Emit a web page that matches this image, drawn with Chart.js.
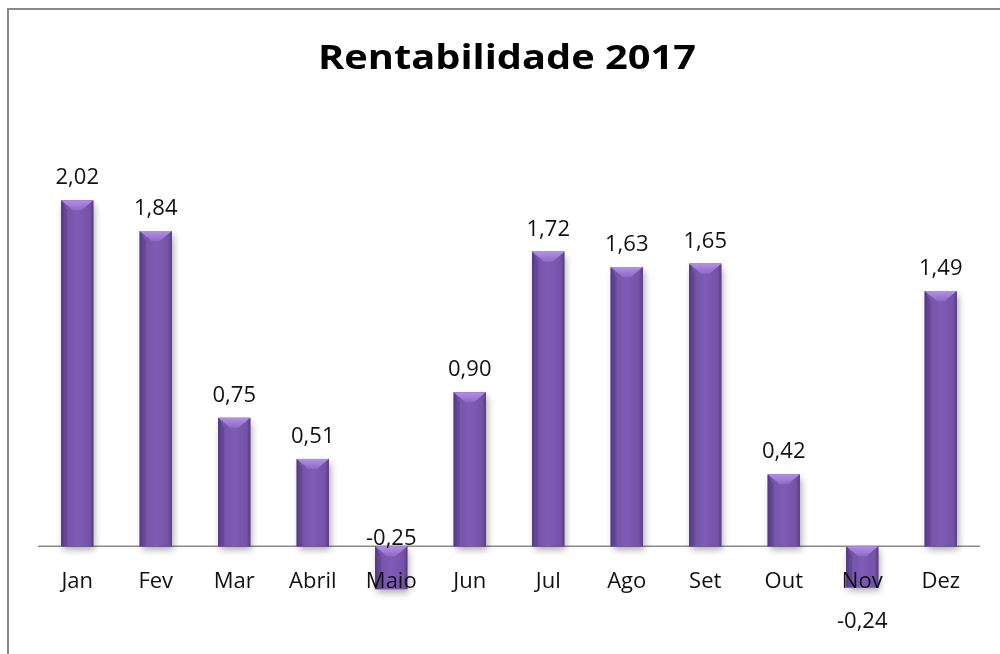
<!DOCTYPE html>
<html>
<head>
<meta charset="utf-8">
<script src="https://cdn.jsdelivr.net/npm/chart.js@4"></script>
<style>
  html, body { margin: 0; padding: 0; background: #fff; }
  #wrap { width: 1000px; height: 654px; position: relative; }
</style>
</head>
<body>
<div id="wrap"><canvas id="chart1" width="1000" height="654"></canvas></div>
<script>
const meses = ['Jan', 'Fev', 'Mar', 'Abril', 'Maio', 'Jun', 'Jul', 'Ago', 'Set', 'Out', 'Nov', 'Dez']
const rentabilidade = [2.02, 1.84, 0.75, 0.51, -0.25, 0.90, 1.72, 1.63, 1.65, 0.42, -0.24, 1.49]
const titulo = 'Rentabilidade 2017'

const fontFamily = '"Open Sans", Lato, sans-serif'

const fmt = v => v.toFixed(2).replace('.', ',')

// moldura, titulo, linha do zero, barras com bisel e rotulos
const excelLook = {
  id: 'excelLook',
  beforeDraw(chart) {
    const { ctx } = chart
    ctx.save()
    ctx.fillStyle = '#fff'
    ctx.fillRect(0, 0, chart.width, chart.height)
    ctx.strokeStyle = '#8a8a8a'
    ctx.lineWidth = 2
    ctx.beginPath()
    ctx.moveTo(8, chart.height + 2)
    ctx.lineTo(8, 9)
    ctx.lineTo(chart.width + 2, 9)
    ctx.stroke()

    // titulo largo como o Calibri do original
    ctx.fillStyle = '#000'
    ctx.font = 'bold 34px ' + fontFamily
    ctx.textAlign = 'center'
    ctx.textBaseline = 'alphabetic'
    const tw = ctx.measureText(titulo).width
    ctx.translate(507, 69)
    ctx.scale(378 / tw, 1)
    ctx.fillText(titulo, 0, 0)
    ctx.restore()
  },
  beforeDatasetsDraw(chart) {
    const { ctx, chartArea, scales } = chart
    const y0 = scales.y.getPixelForValue(0)
    ctx.save()
    ctx.strokeStyle = '#8c8c8c'
    ctx.lineWidth = 1.5
    ctx.beginPath()
    ctx.moveTo(chartArea.left, y0)
    ctx.lineTo(chartArea.right, y0)
    ctx.stroke()

    // sombra das barras
    const meta = chart.getDatasetMeta(0)
    meta.data.forEach(bar => {
      const w = bar.width
      const top = Math.min(bar.y, bar.base)
      const h = Math.abs(bar.base - bar.y)
      ctx.shadowColor = 'rgba(0,0,0,0.35)'
      ctx.shadowBlur = 7
      ctx.shadowOffsetX = 2
      ctx.shadowOffsetY = 4
      ctx.fillStyle = '#6b4a9c'
      ctx.fillRect(bar.x - w / 2, top, w, h)
    })
    ctx.restore()
  },
  afterDatasetsDraw(chart) {
    const { ctx, scales } = chart
    const meta = chart.getDatasetMeta(0)
    const y0 = scales.y.getPixelForValue(0)
    ctx.save()
    meta.data.forEach((bar, i) => {
      const w = bar.width
      const left = bar.x - w / 2
      const top = Math.min(bar.y, bar.base)
      const h = Math.abs(bar.base - bar.y)

      const g = ctx.createLinearGradient(left, 0, left + w, 0)
      g.addColorStop(0, '#5a3e8a')
      g.addColorStop(0.12, '#7453a8')
      g.addColorStop(0.5, '#7f5cb5')
      g.addColorStop(0.88, '#7453a8')
      g.addColorStop(1, '#583c86')
      ctx.fillStyle = g
      ctx.fillRect(left, top, w, h)

      // bisel superior
      const b = Math.min(10, h)
      const gb = ctx.createLinearGradient(0, top, 0, top + b)
      gb.addColorStop(0, '#b48fe8')
      gb.addColorStop(1, '#8d6ac6')
      ctx.fillStyle = gb
      ctx.beginPath()
      ctx.moveTo(left, top)
      ctx.lineTo(left + w, top)
      ctx.lineTo(left + w - b * 1.2, top + b)
      ctx.lineTo(left + b * 1.2, top + b)
      ctx.closePath()
      ctx.fill()
      // lateral esquerda mais escura
      ctx.fillStyle = 'rgba(60,35,100,0.25)'
      ctx.beginPath()
      ctx.moveTo(left, top)
      ctx.lineTo(left + b * 0.6, top + b)
      ctx.lineTo(left + b * 0.6, top + h)
      ctx.lineTo(left, top + h)
      ctx.closePath()
      ctx.fill()
    })

    // rotulos das categorias (por cima das barras)
    ctx.fillStyle = '#111'
    ctx.font = '22px ' + fontFamily
    ctx.textAlign = 'center'
    ctx.textBaseline = 'alphabetic'
    meta.data.forEach((bar, i) => {
      ctx.fillText(meses[i], bar.x, y0 + 42)
    })

    // rotulos de valor
    meta.data.forEach((bar, i) => {
      const v = rentabilidade[i]
      let y
      if (v >= 0) y = bar.y - 16
      else if (i === 4) y = y0 - 1 // Maio fica acima do eixo no original
      else y = bar.y + 41
      ctx.fillText(fmt(v), bar.x, y)
    })
    ctx.restore()
  }
}

new Chart('chart1', {
  type: 'bar',
  data: {
    labels: meses,
    datasets: [{
      data: rentabilidade,
      backgroundColor: 'rgba(0,0,0,0)',
      borderWidth: 0,
      categoryPercentage: 1,
      barPercentage: 0.41
    }]
  },
  options: {
    responsive: false,
    animation: false,
    events: [],
    layout: {
      padding: { left: 38, right: 20, top: 118, bottom: 22 }
    },
    scales: {
      x: { display: false, offset: true, grid: { display: false } },
      y: { display: false, min: -0.5, max: 2.5 }
    },
    plugins: {
      legend: { display: false },
      tooltip: { enabled: false }
    }
  },
  plugins: [excelLook]
})
</script>
</body>
</html>
